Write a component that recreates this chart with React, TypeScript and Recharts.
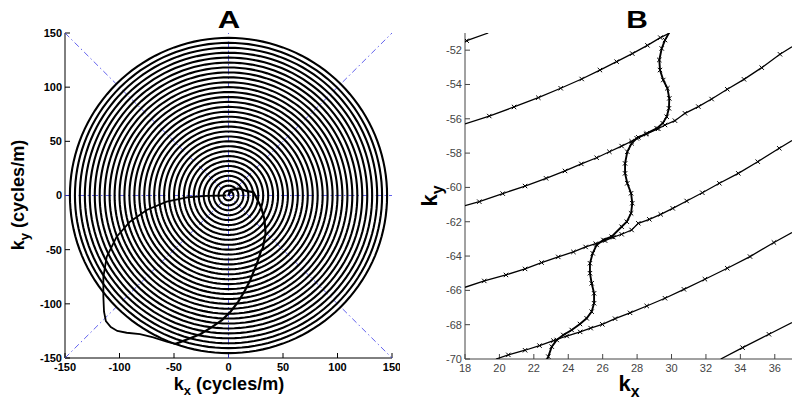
import { ScatterChart, Scatter, XAxis, YAxis } from "recharts";

type Pt = { x: number; y: number };

// panel A: axis ticks and the spiral
const ticksA = [-150, -100, -50, 0, 50, 100, 150];
const domA: [number, number] = [-150, 150];

const ringRadii = [
  4.5, 9.1, 13.6, 18.2, 22.7, 27.3, 31.8, 36.4, 40.9, 45.5, 50.0, 54.5, 59.1,
  63.6, 68.2, 72.7, 77.3, 81.8, 86.4, 90.9, 95.5, 100.0, 104.5, 109.1, 113.6,
  118.2, 122.7, 127.3, 131.8, 136.4, 140.9, 145.5,
];

// step line where the trajectory moves from one ring to the next
const zigzagA: [number, number][] = [
  [0, 0], [2, 5], [10, 6.5], [17, 4], [23, 3], [25, -1], [30, -11], [33, -22],
  [34, -35], [31.5, -48.5], [29.9, -51], [28, -57], [26, -63], [23.7, -68.6],
  [20, -78], [15, -88], [9, -98], [2, -107], [-6, -115], [-16, -122],
  [-26, -128], [-37, -132.5], [-45, -135.6], [-49, -137],
];

// return path
const tailA: [number, number][] = [
  [-2, 0], [-20, -0.3], [-38, -1.7], [-56.7, -5.7], [-75, -13.4],
  [-90.4, -24.2], [-102.6, -38], [-111.7, -56.5], [-114.8, -75],
  [-114.8, -93.4], [-114.2, -107.3], [-112.5, -116], [-108, -121.5],
  [-102, -125], [-93.4, -126.7], [-81.2, -127.9], [-69, -130.9],
  [-56.7, -135], [-49, -137],
];

// panel B: zoomed view
const ticksBX = [18, 20, 22, 24, 26, 28, 30, 32, 34, 36];
const ticksBY = [-70, -68, -66, -64, -62, -60, -58, -56, -54, -52];
const domBX: [number, number] = [18, 37];
const domBY: [number, number] = [-70, -51];

const arcB1: [number, number][] = [[18, -51.5], [18.1, -51.45], [19.35, -51]];
const arcB2: [number, number][] = [
  [18, -56.3], [19.41, -55.84], [20.85, -55.31], [22.26, -54.77],
  [23.56, -54.22], [24.78, -53.68], [25.84, -53.16], [26.81, -52.67],
  [27.72, -52.2], [28.6, -51.72], [29.35, -51.27], [29.9, -51],
];
const arcB3: [number, number][] = [
  [18, -61.06], [18.83, -60.83], [20.19, -60.36], [21.49, -59.92],
  [22.71, -59.47], [23.81, -59.04], [24.76, -58.63], [25.65, -58.27],
  [26.39, -57.92], [27.1, -57.59], [27.68, -57.31], [28.07, -57.08],
  [28.52, -56.9], [29.23, -56.58], [29.62, -56.36], [30.2, -56.11],
  [30.78, -55.68], [31.56, -55.29], [32.33, -54.85], [33.24, -54.28],
  [34.21, -53.7], [35.24, -53.02], [36.3, -52.24], [37, -51.8],
];
const arcB4: [number, number][] = [
  [18, -65.82], [19.12, -65.45], [20.38, -65.1], [21.49, -64.75],
  [22.45, -64.38], [23.42, -64.05], [24.3, -63.76], [25.01, -63.47],
  [25.6, -63.28], [26.14, -63.1], [26.62, -62.9], [27.1, -62.73],
  [27.68, -62.48], [28.07, -62.09], [28.71, -61.86], [29.37, -61.57],
  [30.07, -61.22], [30.88, -60.79], [31.79, -60.31], [32.78, -59.76],
  [33.88, -59.18], [35.01, -58.5], [36.26, -57.72], [37, -57.27],
];
const arcB5: [number, number][] = [
  [19.8, -70], [20.52, -69.76], [21.49, -69.49], [22.33, -69.22],
  [23.14, -68.93], [23.91, -68.66], [24.69, -68.42], [25.3, -68.2],
  [25.98, -67.98], [26.72, -67.65], [27.59, -67.31], [28.56, -66.91],
  [29.62, -66.46], [30.72, -65.94], [31.94, -65.35], [33.24, -64.71],
  [34.56, -64.03], [35.95, -63.21], [37, -62.63],
];
const arcB6: [number, number][] = [
  [32.86, -70], [34.13, -69.34], [35.66, -68.56], [37, -67.88],
];
const wiggleB: [number, number][] = [
  [29.85, -51.0], [29.62, -51.41], [29.43, -51.9], [29.29, -52.57],
  [29.33, -53.16], [29.52, -53.74], [29.76, -54.22], [29.87, -54.81],
  [29.85, -55.39], [29.72, -55.88], [29.49, -56.26], [29.14, -56.56],
  [28.56, -56.85], [27.98, -57.14], [27.68, -57.43], [27.43, -57.92],
  [27.3, -58.6], [27.3, -59.18], [27.43, -59.76], [27.65, -60.34],
  [27.72, -60.92], [27.65, -61.51], [27.4, -62.0], [27.1, -62.29],
  [26.52, -62.87], [26.04, -63.06], [25.65, -63.35], [25.42, -63.84],
  [25.26, -64.42], [25.26, -65.0], [25.36, -65.59], [25.5, -66.17],
  [25.5, -66.75], [25.36, -67.24], [25.07, -67.63], [24.68, -67.96],
  [24.2, -68.31], [23.71, -68.6], [23.33, -68.89], [23.04, -69.28],
  [22.84, -69.86], [22.78, -70],
];

const toPts = (a: [number, number][]): Pt[] => a.map(([x, y]) => ({ x, y }));

// each turn drawn as a closed polyline through the axis scales
const rings: Pt[][] = ringRadii.map((r) =>
  Array.from({ length: 145 }, (_, i) => {
    const t = (i / 144) * Math.PI * 2;
    return { x: r * Math.cos(t), y: r * Math.sin(t) };
  })
);

const guidesA: Pt[][] = [
  [{ x: domA[0], y: 0 }, { x: domA[1], y: 0 }],
  [{ x: 0, y: domA[0] }, { x: 0, y: domA[1] }],
  [{ x: domA[0], y: domA[0] }, { x: domA[1], y: domA[1] }],
  [{ x: domA[0], y: domA[1] }, { x: domA[1], y: domA[0] }],
];

const FONT = "'Liberation Sans', Arial, Helvetica, sans-serif";
const noDot = () => <g />;

const cross = (props: any) => {
  const { cx, cy, payload } = props;
  // no marker where a line leaves the frame
  if (
    payload.x === domBX[0] || payload.x === domBX[1] ||
    payload.y === domBY[0] || payload.y === domBY[1]
  )
    return <g />;
  const s = 2.2;
  return (
    <path
      d={`M${cx - s},${cy - s}L${cx + s},${cy + s}M${cx - s},${cy + s}L${cx + s},${cy - s}`}
      stroke="#000"
      strokeWidth={1}
      fill="none"
    />
  );
};

function PanelA() {
  const tickA = { fill: "#000", fontSize: 11, fontWeight: "bold", fontFamily: FONT };
  return (
    <ScatterChart
      width={400}
      height={403}
      margin={{ top: 33, right: 8, bottom: 15, left: 20 }}
    >
      <XAxis type="number" dataKey="x" domain={domA} ticks={ticksA} height={30}
        tickSize={-5} tickMargin={10} stroke="#000" tick={tickA} interval={0} />
      <XAxis xAxisId="t" type="number" dataKey="x" orientation="top" domain={domA}
        ticks={ticksA} height={0} tickSize={-5} tick={false} stroke="#000" />
      <YAxis type="number" dataKey="y" domain={domA} ticks={ticksA} width={45}
        tickSize={-5} tickMargin={8} stroke="#000" tick={tickA} interval={0} />
      <YAxis yAxisId="r" type="number" dataKey="y" orientation="right" domain={domA}
        ticks={ticksA} width={0} tickSize={-5} tick={false} stroke="#000" />
      {guidesA.map((g, i) => (
        <Scatter key={"g" + i} data={g} shape={noDot} isAnimationActive={false}
          line={{ stroke: "#3a3ae8", strokeWidth: 0.8, strokeDasharray: "6 3 1.5 3" }} />
      ))}
      {rings.map((r, i) => (
        <Scatter key={"r" + i} data={r} shape={noDot} isAnimationActive={false}
          line={{ stroke: "#000", strokeWidth: 2.1 }} />
      ))}
      <Scatter data={toPts(zigzagA)} shape={noDot} isAnimationActive={false}
        line={{ stroke: "#000", strokeWidth: 2.2 }} />
      <Scatter data={toPts(tailA)} shape={noDot} isAnimationActive={false}
        line={{ stroke: "#000", strokeWidth: 1.8 }} lineType="joint" />
    </ScatterChart>
  );
}

function PanelB() {
  const tickB = { fill: "#444", fontSize: 11, fontFamily: FONT };
  const arcs = [arcB1, arcB2, arcB3, arcB4, arcB5, arcB6];
  return (
    <ScatterChart
      width={400}
      height={403}
      margin={{ top: 33, right: 8, bottom: 14, left: 20 }}
    >
      <XAxis type="number" dataKey="x" domain={domBX} ticks={ticksBX} height={30}
        tickSize={-5} tickMargin={10} stroke="#444" tick={tickB} interval={0}
        allowDataOverflow />
      <XAxis xAxisId="t" type="number" dataKey="x" orientation="top" domain={domBX}
        ticks={ticksBX} height={0} tickSize={-5} tick={false} stroke="#444"
        allowDataOverflow />
      <YAxis type="number" dataKey="y" domain={domBY} ticks={ticksBY} width={45}
        tickSize={-5} tickMargin={8} stroke="#444" tick={tickB} interval={0}
        allowDataOverflow />
      <YAxis yAxisId="r" type="number" dataKey="y" orientation="right" domain={domBY}
        ticks={ticksBY} width={0} tickSize={-5} tick={false} stroke="#444"
        allowDataOverflow />
      {arcs.map((a, i) => (
        <Scatter key={"a" + i} data={toPts(a)} shape={cross} isAnimationActive={false}
          line={{ stroke: "#000", strokeWidth: 1.3 }} />
      ))}
      <Scatter data={toPts(wiggleB)} shape={cross} isAnimationActive={false}
        line={{ stroke: "#000", strokeWidth: 1.9 }} />
    </ScatterChart>
  );
}

const sub = { fontSize: "0.72em", position: "relative" as const, top: "0.35em" };
const abs = (left: number, top: number, rotate = false) => ({
  position: "absolute" as const,
  left,
  top,
  transform: `translate(-50%, -50%)${rotate ? " rotate(-90deg)" : ""}`,
  whiteSpace: "nowrap" as const,
  fontFamily: FONT,
  fontWeight: "bold" as const,
  color: "#000",
  lineHeight: 1,
});

export default function App() {
  return (
    <div style={{ position: "absolute", left: 0, top: 0, width: 800, height: 403, background: "#fff", overflow: "hidden" }}>
      <div style={{ position: "absolute", left: 0, top: 0 }}>
        <PanelA />
      </div>
      <div style={{ position: "absolute", left: 400, top: 0 }}>
        <PanelB />
      </div>
      <div style={{ ...abs(229, 20), fontSize: 23, fontWeight: 900, transform: "translate(-50%, -50%) scaleX(1.35)" }}>A</div>
      <div style={{ ...abs(637, 20), fontSize: 23, fontWeight: 900, transform: "translate(-50%, -50%) scaleX(1.3)" }}>B</div>
      <div style={{ ...abs(229, 384), fontSize: 18 }}>
        k<span style={sub}>x</span> (cycles/m)
      </div>
      <div style={{ ...abs(18, 195, true), fontSize: 18 }}>
        k<span style={sub}>y</span> (cycles/m)
      </div>
      <div style={{ ...abs(629, 384), fontSize: 22 }}>
        k<span style={sub}>x</span>
      </div>
      <div style={{ ...abs(430, 196, true), fontSize: 22 }}>
        k<span style={sub}>y</span>
      </div>
    </div>
  );
}
